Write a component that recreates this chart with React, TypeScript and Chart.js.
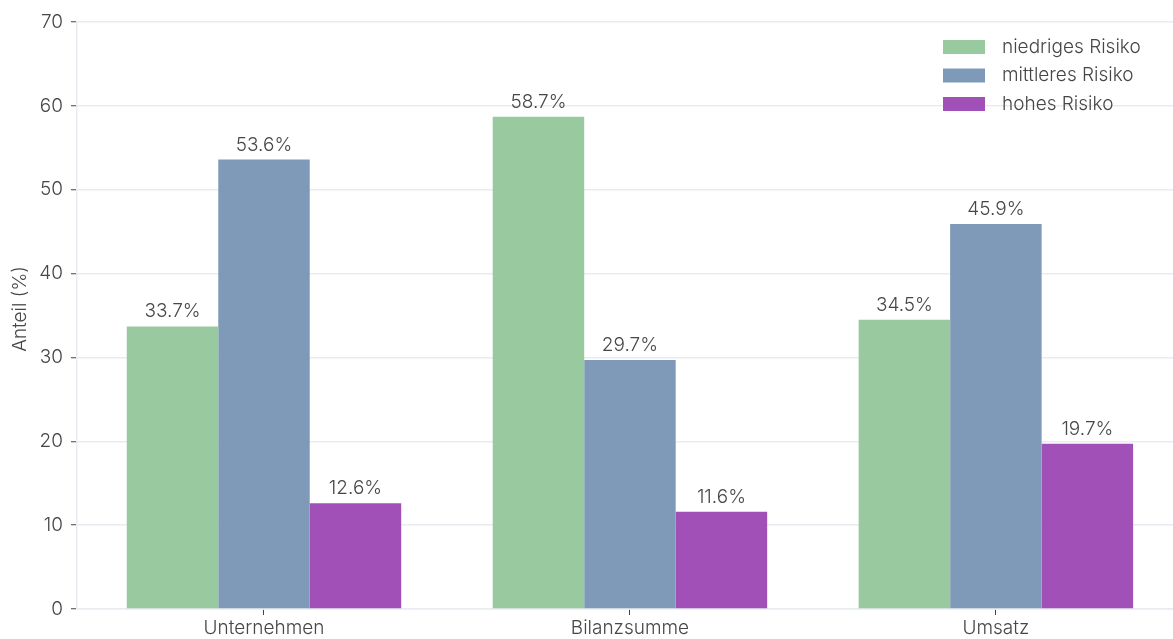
import React, { useEffect, useRef } from 'react';
import { Chart, registerables } from 'chart.js';

Chart.register(...registerables);

const categories = ['Unternehmen', 'Bilanzsumme', 'Umsatz'];
const seriesLabels = ['niedriges Risiko', 'mittleres Risiko', 'hohes Risiko'];
const niedrig = [33.7, 58.7, 34.5];
const mittel = [53.6, 29.7, 45.9];
const hoch = [12.6, 11.6, 19.7];
const yTicks = [0, 10, 20, 30, 40, 50, 60, 70];
const yTitle = 'Anteil (%)';

const colors = ['#99c99e', '#7f99b8', '#a050b7'];
const FONT = "Inter, Roboto, 'DejaVu Sans', sans-serif";
const TEXT = '#474747';
const GRID = '#e8ecf1';

const overlay = {
  id: 'overlay',
  afterDraw(chart: any) {
    const ctx = chart.ctx;
    ctx.save();
    // data labels
    ctx.font = `300 19px ${FONT}`;
    ctx.fillStyle = TEXT;
    ctx.textAlign = 'center';
    ctx.textBaseline = 'alphabetic';
    chart.data.datasets.forEach((ds: any, di: number) => {
      const meta = chart.getDatasetMeta(di);
      meta.data.forEach((bar: any, i: number) => {
        const v = ds.data[i].y;
        ctx.fillText(v.toFixed(1) + '%', bar.x, bar.y - 9);
      });
    });
    // legend
    ctx.textAlign = 'left';
    ctx.textBaseline = 'middle';
    const rows = [47, 75.5, 104];
    chart.data.datasets.forEach((ds: any, di: number) => {
      const y = rows[di];
      ctx.fillStyle = ds.backgroundColor;
      ctx.fillRect(943, y - 7, 42, 14);
      ctx.fillStyle = TEXT;
      ctx.fillText(ds.label, 1002, y);
    });
    // y title
    ctx.translate(20, 309);
    ctx.rotate(-Math.PI / 2);
    ctx.textAlign = 'center';
    ctx.textBaseline = 'middle';
    ctx.fillText(yTitle, 0, 0);
    ctx.restore();
  },
};

export default function App() {
  const ref = useRef<HTMLCanvasElement | null>(null);
  useEffect(() => {
    if (!ref.current) return;
    const series = [niedrig, mittel, hoch];
    const chart = new Chart(ref.current, {
      type: 'bar',
      data: {
        datasets: series.map((vals, si) => ({
          label: seriesLabels[si],
          data: vals.map((v, i) => ({ x: i, y: v })),
          backgroundColor: colors[si],
          borderWidth: 0,
          categoryPercentage: 0.75,
          barPercentage: 1,
        })),
      },
      options: {
        responsive: false,
        animation: false,
        devicePixelRatio: 1,
        layout: { padding: { top: 22, left: 0, right: 0, bottom: 0 } },
        plugins: { legend: { display: false }, tooltip: { enabled: false } },
        scales: {
          x: {
            type: 'linear',
            offset: false,
            min: -0.511,
            max: 2.484,
            afterBuildTicks: (scale: any) => {
              scale.ticks = categories.map((_, i) => ({ value: i }));
            },
            afterFit: (scale: any) => {
              scale.height = 30;
            },
            grid: {
              display: true,
              offset: false,
              drawOnChartArea: false,
              drawTicks: true,
              tickLength: 6,
              tickColor: '#444',
              tickWidth: 1,
            },
            border: { display: true, color: GRID, width: 1.5 },
            ticks: {
              padding: 2,
              autoSkip: false,
              maxRotation: 0,
              color: TEXT,
              font: { family: FONT, size: 19, weight: 300 },
              callback: (v: any) => categories[Math.round(v)] ?? '',
            },
          },
          y: {
            min: 0,
            max: 70,
            afterBuildTicks: (scale: any) => {
              scale.ticks = yTicks.map((v) => ({ value: v }));
            },
            afterFit: (scale: any) => {
              scale.width = 77;
            },
            grid: {
              color: GRID,
              lineWidth: 1.5,
              drawTicks: true,
              tickLength: 6,
              tickColor: '#444',
              tickWidth: 1,
            },
            border: { display: true, color: GRID, width: 1.5 },
            ticks: {
              padding: 8,
              color: TEXT,
              font: { family: FONT, size: 19, weight: 300 },
            },
          },
        },
      },
      plugins: [overlay],
    });
    return () => chart.destroy();
  }, []);
  return (
    <div style={{ position: 'fixed', left: 0, top: 0, width: 1173, height: 639, overflow: 'hidden', background: '#fff' }}>
      <canvas ref={ref} width={1173} height={639} style={{ display: 'block' }} />
    </div>
  );
}
